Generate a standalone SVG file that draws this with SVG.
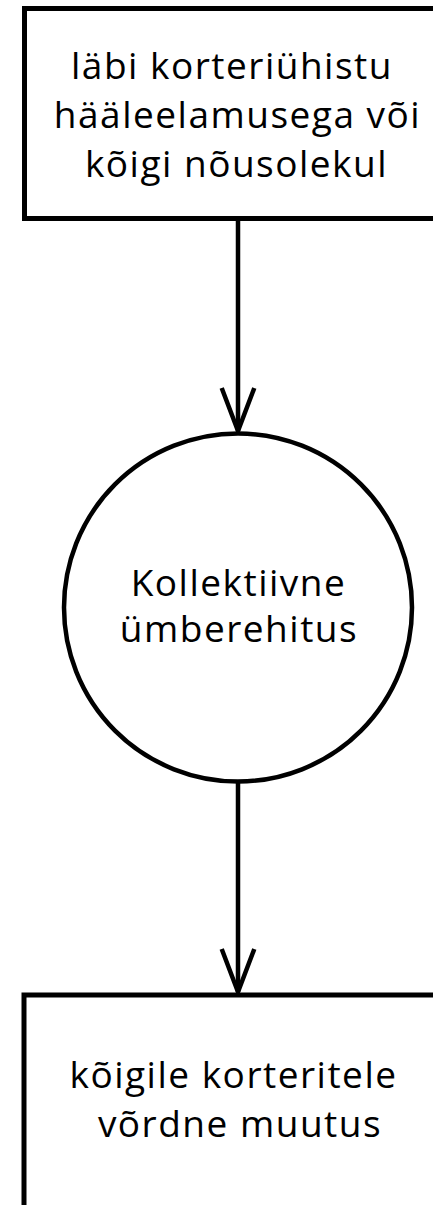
<svg xmlns="http://www.w3.org/2000/svg" width="433" height="1205" viewBox="0 0 433 1205">
<style>
.box{fill:#fff;stroke:#000;stroke-width:5}
.circ{fill:#fff;stroke:#000;stroke-width:4.5}
.lbl{font-family:"Open Sans","Noto Sans","Liberation Sans",sans-serif;font-size:37px;letter-spacing:1.5px;fill:#000;text-anchor:middle}
.edge{stroke:#000;stroke-width:4.5;fill:none}
</style>
<rect width="433" height="1205" fill="#fff"/>
<g id="connectors">
<path class="edge" d="M238,221 V431"/>
<path class="edge" d="M221.7,388 L238,431 L254.3,388"/>
<path class="edge" d="M238,782 V992"/>
<path class="edge" d="M221.7,949 L238,992 L254.3,949"/>
</g>
<g id="node-top">
<rect class="box" x="24.5" y="8.5" width="440" height="210"/>
<text class="lbl" x="232" y="79">läbi korteriühistu</text>
<text class="lbl" x="237.5" y="128">hääleelamusega või</text>
<text class="lbl" x="236.5" y="177">kõigi nõusolekul</text>
</g>
<g id="node-circle">
<circle class="circ" cx="238" cy="607.5" r="174"/>
<text class="lbl" x="238.5" y="596">Kollektiivne</text>
<text class="lbl" x="239" y="642">ümberehitus</text>
</g>
<g id="node-bottom">
<rect class="box" x="24" y="995" width="440" height="240"/>
<text class="lbl" x="233.5" y="1088">kõigile korteritele</text>
<text class="lbl" x="240" y="1137">võrdne muutus</text>
</g>
</svg>
